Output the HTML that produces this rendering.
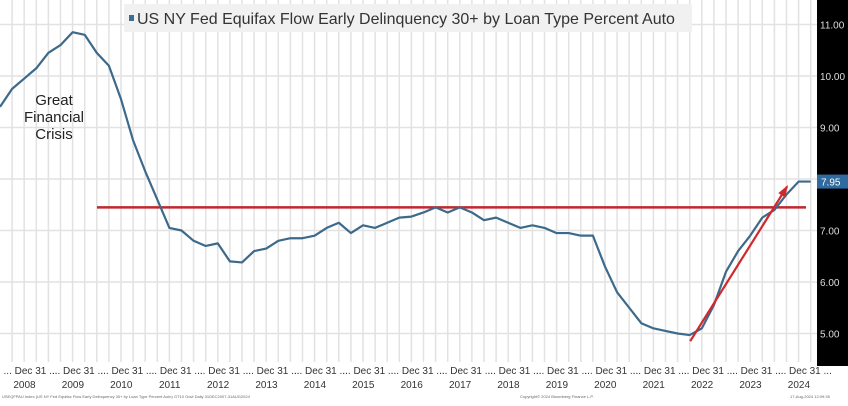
<!DOCTYPE html>
<html><head><meta charset="utf-8"><style>
body{margin:0;background:#fff;width:848px;height:401px;overflow:hidden;font-family:"Liberation Sans",sans-serif}
</style></head><body>
<svg id="chart" width="848" height="401" xmlns="http://www.w3.org/2000/svg">
<rect x="0" y="0" width="848" height="401" fill="#fff"/>
<rect x="817" y="0" width="31" height="366" fill="#000"/>
<g id="grid"></g>
<g id="yaxis"></g>
<g id="xaxis"></g>
<rect x="124" y="4" width="568" height="28" fill="#f1f1f1"/>
<rect x="129" y="15" width="5" height="6" fill="#3c6e91"/>
<text x="137" y="24" font-size="16" fill="#333">US NY Fed Equifax Flow Early Delinquency 30+ by Loan Type Percent Auto</text>
<text font-size="15" fill="#222" text-anchor="middle"><tspan x="54" y="105">Great</tspan><tspan x="54" y="122">Financial</tspan><tspan x="54" y="139">Crisis</tspan></text>
<g id="series"></g>
<text x="2" y="398" font-size="4" fill="#666">USEQFPAU Index (US NY Fed Equifax Flow Early Delinquency 30+ by Loan Type Percent Auto) GT10 Govt Daily 31DEC2007-31AUG2024</text>
<text x="520" y="398" font-size="4" fill="#666">Copyright© 2024 Bloomberg Finance L.P.</text>
<text x="790" y="398" font-size="4" fill="#666">17-Aug-2024 12:09:35</text>
</svg>
<script>
const years=[2008,2009,2010,2011,2012,2013,2014,2015,2016,2017,2018,2019,2020,2021,2022,2023,2024];
const yTicks=[5,6,7,9,10,11];
const values=[9.4,9.75,9.95,10.15,10.45,10.6,10.85,10.8,10.45,10.2,9.55,8.75,8.15,7.6,7.05,7.0,6.8,6.7,6.75,6.4,6.38,6.6,6.65,6.8,6.85,6.85,6.9,7.05,7.15,6.95,7.1,7.05,7.15,7.25,7.27,7.35,7.45,7.35,7.45,7.35,7.2,7.25,7.15,7.05,7.1,7.05,6.95,6.95,6.9,6.9,6.3,5.8,5.5,5.2,5.1,5.05,5.0,4.97,5.1,5.55,6.2,6.6,6.9,7.25,7.4,7.7,7.95,7.95];
const lastValue=[7.95];
const refLevel=[7.45];
const arrowFrom=[2022.25,4.85];
const arrowTo=[2024.25,7.85];
const NS="http://www.w3.org/2000/svg";
const X=t=>(t-2008)*48.4+0.5;
const XI=i=>i*12.1;
const Y=v=>333.5-(v-5)*51.5;
function mk(tag,attrs,parent){const e=document.createElementNS(NS,tag);for(const k in attrs)e.setAttribute(k,attrs[k]);document.getElementById(parent).appendChild(e);return e;}
for(let i=1;i<68;i++){const l=mk('line',{x1:i*12.1,x2:i*12.1,y1:0,y2:362,stroke:'#e2e2e2','stroke-width':1.5},'grid');

}
for(const v of yTicks.concat([8])){const l=mk('line',{x1:0,x2:817,y1:Y(v),y2:Y(v),stroke:'#e2e2e2','stroke-width':1.5},'grid');

}
for(const v of yTicks){const t=mk('text',{x:820,y:Y(v)+4,'font-size':10,fill:'#ddd'},'yaxis');t.textContent=v.toFixed(2);

}
const lb=mk('rect',{x:817,y:Y(lastValue[0])-7,width:31,height:14,fill:'#2f6aa0'},'yaxis');


const lt=mk('text',{x:821,y:Y(lastValue[0])+4,'font-size':10,fill:'#fff'},'yaxis');lt.textContent=lastValue[0].toFixed(2);


years.forEach(yr=>{const cx=X(yr)+24;
const d=mk('text',{x:X(yr)+30,y:374,'font-size':10,fill:'#333','text-anchor':'middle'},'xaxis');d.textContent='... Dec 31 ...';


const t=mk('text',{x:cx,y:388,'font-size':10,fill:'#333','text-anchor':'middle'},'xaxis');t.textContent=yr;

});
const rl=mk('line',{x1:97,x2:806,y1:Y(refLevel[0]),y2:Y(refLevel[0]),stroke:'#c0282d','stroke-width':2.5},'series');


const p=mk('polyline',{points:values.map((v,i)=>XI(i)+','+Y(v)).join(' '),fill:'none',stroke:'#3d6a8a','stroke-width':2.2,'stroke-linejoin':'round'},'series');


const ax1=X(arrowFrom[0]),ay1=Y(arrowFrom[1]),ax2=X(arrowTo[0]),ay2=Y(arrowTo[1]);
const a=mk('line',{x1:ax1,y1:ay1,x2:ax2,y2:ay2,stroke:'#d0282d','stroke-width':2.2},'series');


const ang=Math.atan2(ay2-ay1,ax2-ax1),L=10,W=4;
const bx=ax2-L*Math.cos(ang),by=ay2-L*Math.sin(ang);
const h=mk('polygon',{points:`${ax2+2*Math.cos(ang)},${ay2+2*Math.sin(ang)} ${bx-W*Math.sin(ang)},${by+W*Math.cos(ang)} ${bx+W*Math.sin(ang)},${by-W*Math.cos(ang)}`,fill:'#d0282d'},'series');


</script>
</body></html>
